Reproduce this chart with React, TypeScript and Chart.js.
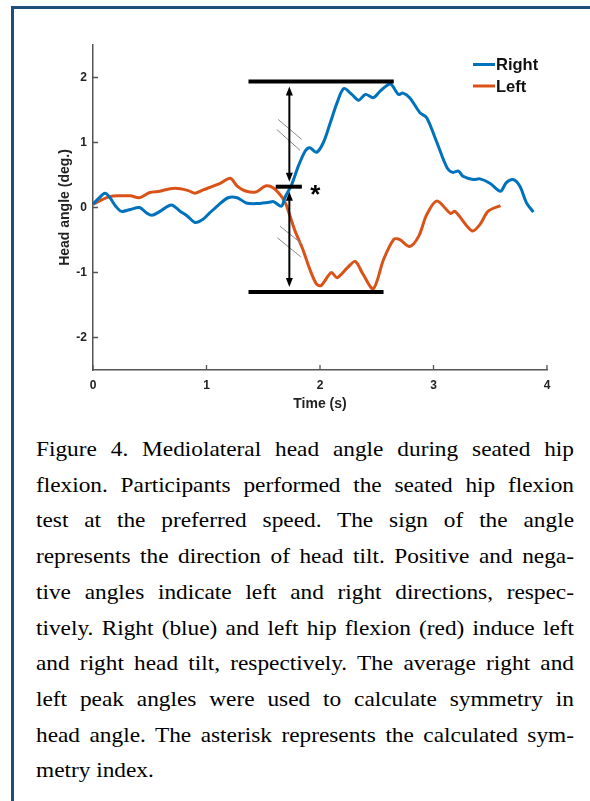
import React, { useEffect, useRef } from "react";
import { Chart, registerables } from "chart.js";

Chart.register(...registerables);

// ---- data (time in s, mediolateral head angle in deg.) ----
const rightTime = [0, 0.05, 0.106, 0.15, 0.2, 0.25, 0.33, 0.41, 0.47, 0.52, 0.59, 0.69, 0.77, 0.83, 0.9, 0.97, 1.03, 1.1, 1.19, 1.27, 1.35, 1.44, 1.55, 1.59, 1.66, 1.69, 1.75, 1.81, 1.87, 1.91, 1.97, 2.03, 2.09, 2.15, 2.21, 2.28, 2.34, 2.4, 2.47, 2.53, 2.62, 2.69, 2.73, 2.79, 2.88, 2.94, 3.03, 3.12, 3.17, 3.22, 3.26, 3.35, 3.41, 3.5, 3.59, 3.64, 3.7, 3.76, 3.82, 3.88];
const rightAngle = [0.05, 0.14, 0.22, 0.15, 0.02, -0.06, -0.03, 0.0, -0.08, -0.12, -0.06, 0.04, -0.06, -0.13, -0.23, -0.18, -0.08, 0.03, 0.15, 0.15, 0.07, 0.06, 0.08, 0.09, 0.02, 0.15, 0.35, 0.64, 0.87, 0.92, 0.85, 1.0, 1.3, 1.61, 1.83, 1.74, 1.65, 1.74, 1.69, 1.79, 1.9, 1.74, 1.76, 1.69, 1.46, 1.38, 1.0, 0.61, 0.54, 0.56, 0.48, 0.43, 0.44, 0.37, 0.25, 0.38, 0.43, 0.33, 0.07, -0.07];
const leftTime = [0, 0.08, 0.15, 0.24, 0.33, 0.41, 0.5, 0.59, 0.68, 0.77, 0.84, 0.9, 0.97, 1.06, 1.13, 1.21, 1.27, 1.35, 1.44, 1.52, 1.59, 1.66, 1.7, 1.73, 1.78, 1.85, 1.91, 1.97, 2.01, 2.1, 2.15, 2.24, 2.31, 2.38, 2.47, 2.56, 2.65, 2.7, 2.79, 2.87, 2.94, 3.03, 3.15, 3.19, 3.34, 3.41, 3.48, 3.59];
const leftAngle = [0.05, 0.12, 0.17, 0.18, 0.18, 0.15, 0.23, 0.25, 0.29, 0.29, 0.26, 0.22, 0.27, 0.33, 0.38, 0.45, 0.33, 0.25, 0.24, 0.33, 0.3, 0.17, 0.05, -0.1, -0.36, -0.65, -0.95, -1.18, -1.2, -1.0, -1.08, -0.93, -0.83, -1.03, -1.25, -0.8, -0.49, -0.49, -0.6, -0.44, -0.11, 0.1, -0.09, -0.06, -0.36, -0.26, -0.06, 0.03];

const seriesLabels = ["Right", "Left"];
const seriesColors = ["#0072BD", "#D95319"];

const xTicks = [0, 1, 2, 3, 4];
const yTicks = [-2, -1, 0, 1, 2];
const xTitle = "Time (s)";
const yTitle = "Head angle (deg.)";

// annotation values (data units)
const rightPeak = 1.94;
const leftPeak = -1.3;
const symmetryIndex = 0.32;
const rightPeakSpan = [1.37, 2.65];
const leftPeakSpan = [1.37, 2.56];
const symmetrySpan = [1.61, 1.84];
const arrowTime = 1.73;
const hatchMarks = [
  [1.632, 1.354, 1.839, 1.046],
  [1.619, 1.2, 1.824, 0.88],
  [1.648, -0.288, 1.848, -0.569],
  [1.624, -0.466, 1.83, -0.758],
];
const asteriskText = "*";

const captionLines = [
  "Figure 4. Mediolateral head angle during seated hip",
  "flexion. Participants performed the seated hip flexion",
  "test at the preferred speed. The sign of the angle",
  "represents the direction of head tilt. Positive and nega-",
  "tive angles indicate left and right directions, respec-",
  "tively. Right (blue) and left hip flexion (red) induce left",
  "and right head tilt, respectively. The average right and",
  "left peak angles were used to calculate symmetry in",
  "head angle. The asterisk represents the calculated sym-",
  "metry index.",
];

const SANS = "'Liberation Sans', Arial, sans-serif";

const figurePlugin = {
  id: "figureDecor",
  afterDraw(chart: any) {
    const { ctx, chartArea, scales } = chart;
    const xs = scales.x;
    const ys = scales.y;
    const px = (v: number) => xs.getPixelForValue(v);
    const py = (v: number) => ys.getPixelForValue(v);
    ctx.save();

    // inward tick marks
    ctx.strokeStyle = "#555";
    ctx.lineWidth = 1.3;
    ctx.beginPath();
    xTicks.forEach((t) => {
      const x = px(t);
      ctx.moveTo(x, chartArea.bottom);
      ctx.lineTo(x, chartArea.bottom - 5);
    });
    yTicks.forEach((t) => {
      const y = py(t);
      ctx.moveTo(chartArea.left, y);
      ctx.lineTo(chartArea.left + 5, y);
    });
    ctx.stroke();

    // hatch marks
    ctx.strokeStyle = "#8a8a8a";
    ctx.lineWidth = 1;
    ctx.beginPath();
    hatchMarks.forEach(([x0, y0, x1, y1]) => {
      ctx.moveTo(px(x0), py(y0));
      ctx.lineTo(px(x1), py(y1));
    });
    ctx.stroke();

    // peak bars
    ctx.strokeStyle = "#000";
    ctx.lineWidth = 4;
    ctx.lineCap = "butt";
    const bar = (y: number, span: number[]) => {
      ctx.beginPath();
      ctx.moveTo(px(span[0]), py(y));
      ctx.lineTo(px(span[1]), py(y));
      ctx.stroke();
    };
    bar(rightPeak, rightPeakSpan);
    bar(leftPeak, leftPeakSpan);
    bar(symmetryIndex, symmetrySpan);

    // double-headed arrows
    const head = (x: number, tipY: number, dir: number) => {
      ctx.beginPath();
      ctx.moveTo(x, tipY);
      ctx.lineTo(x - 3.5, tipY + dir * 9);
      ctx.lineTo(x + 3.5, tipY + dir * 9);
      ctx.closePath();
      ctx.fill();
    };
    const arrow = (x: number, yTop: number, yBottom: number) => {
      const top = yTop + 5;
      const bottom = yBottom - 5;
      ctx.lineWidth = 2;
      ctx.beginPath();
      ctx.moveTo(x, top + 6);
      ctx.lineTo(x, bottom - 6);
      ctx.stroke();
      head(x, top, 1);
      head(x, bottom, -1);
    };
    ctx.fillStyle = "#000";
    const ax = px(arrowTime);
    arrow(ax, py(rightPeak), py(symmetryIndex));
    arrow(ax, py(symmetryIndex), py(leftPeak));

    // asterisk
    ctx.font = `bold 26px ${SANS}`;
    ctx.textAlign = "center";
    ctx.textBaseline = "alphabetic";
    ctx.fillText(asteriskText, px(symmetrySpan[1]) + 13.5, py(symmetryIndex) + 16);

    // legend
    const datasets = chart.data.datasets;
    ctx.font = `bold 16.5px ${SANS}`;
    ctx.textAlign = "left";
    ctx.textBaseline = "middle";
    datasets.forEach((ds: any, i: number) => {
      const cy = 54.5 + i * 21.5;
      const lx = chartArea.right - 74;
      ctx.strokeStyle = ds.borderColor;
      ctx.lineWidth = 3;
      ctx.beginPath();
      ctx.moveTo(lx, cy);
      ctx.lineTo(lx + 22, cy);
      ctx.stroke();
      ctx.fillStyle = "#111";
      ctx.fillText(ds.label, lx + 23, cy + 1);
    });

    ctx.restore();
  },
};

function FigureChart() {
  const ref = useRef<HTMLCanvasElement | null>(null);
  useEffect(() => {
    if (!ref.current) return;
    const toPoints = (t: number[], v: number[]) => t.map((x, i) => ({ x, y: v[i] }));
    const chart = new Chart(ref.current, {
      type: "line",
      data: {
        datasets: [
          {
            label: seriesLabels[0],
            data: toPoints(rightTime, rightAngle),
            borderColor: seriesColors[0],
            borderWidth: 3,
            pointRadius: 0,
            tension: 0.3,
            fill: false,
          },
          {
            label: seriesLabels[1],
            data: toPoints(leftTime, leftAngle),
            borderColor: seriesColors[1],
            borderWidth: 3,
            pointRadius: 0,
            tension: 0.3,
            fill: false,
          },
        ],
      },
      options: {
        animation: false,
        responsive: false,
        maintainAspectRatio: false,
        layout: { padding: { left: 0, top: 35, right: 43, bottom: 0 } },
        plugins: { legend: { display: false }, tooltip: { enabled: false } },
        scales: {
          x: {
            type: "linear",
            min: 0,
            max: 4,
            afterFit: (s: any) => {
              s.height = 50;
            },
            afterBuildTicks: (s: any) => {
              s.ticks = xTicks.map((value) => ({ value }));
            },
            grid: { display: false, drawTicks: false },
            border: { display: true, color: "#555", width: 1.5 },
            ticks: {
              padding: 8,
              color: "#222",
              font: { family: SANS, size: 12, weight: "bold" },
              maxRotation: 0,
            },
            title: {
              display: true,
              text: xTitle,
              color: "#222",
              font: { family: SANS, size: 14, weight: "bold" },
              padding: { top: 0, bottom: 7.6 },
            },
          },
          y: {
            type: "linear",
            min: -2.5,
            max: 2.5,
            afterFit: (s: any) => {
              s.width = 80;
            },
            afterBuildTicks: (s: any) => {
              s.ticks = yTicks.map((value) => ({ value }));
            },
            grid: { display: false, drawTicks: false },
            border: { display: true, color: "#555", width: 1.5 },
            ticks: {
              padding: 6,
              color: "#222",
              font: { family: SANS, size: 12, weight: "bold" },
            },
            title: {
              display: true,
              text: yTitle,
              color: "#222",
              font: { family: SANS, size: 14, weight: "bold" },
              padding: { top: 43.6, bottom: 0 },
            },
          },
        },
      },
      plugins: [figurePlugin],
    });
    return () => chart.destroy();
  }, []);
  return (
    <canvas
      ref={ref}
      width={577}
      height={410}
      style={{ position: "absolute", left: 13, top: 10, width: 577, height: 410 }}
    />
  );
}

const CAPTION_STRETCH = 1.11;

export default function App() {
  return (
    <div style={{ position: "absolute", left: 0, top: 0, width: 590, height: 801, background: "#fff", overflow: "hidden" }}>
      <div
        style={{
          position: "absolute",
          left: 11,
          top: 6,
          width: 579,
          height: 795,
          borderTop: "3px solid #1f4e79",
          borderLeft: "3px solid #1f4e79",
          boxSizing: "border-box",
        }}
      />
      <FigureChart />
      <div
        style={{
          position: "absolute",
          left: 36,
          top: 432,
          width: 538 / CAPTION_STRETCH,
          transform: `scaleX(${CAPTION_STRETCH})`,
          transformOrigin: "left top",
          fontFamily: "'Liberation Serif', 'Times New Roman', serif",
          fontSize: 21,
          lineHeight: "35.7px",
          color: "#000",
        }}
      >
        {captionLines.map((line, i) => (
          <div
            key={i}
            style={{
              textAlign: "justify",
              textAlignLast: i === captionLines.length - 1 ? "left" : "justify",
              whiteSpace: "nowrap",
            }}
          >
            {line}
          </div>
        ))}
      </div>
    </div>
  );
}
